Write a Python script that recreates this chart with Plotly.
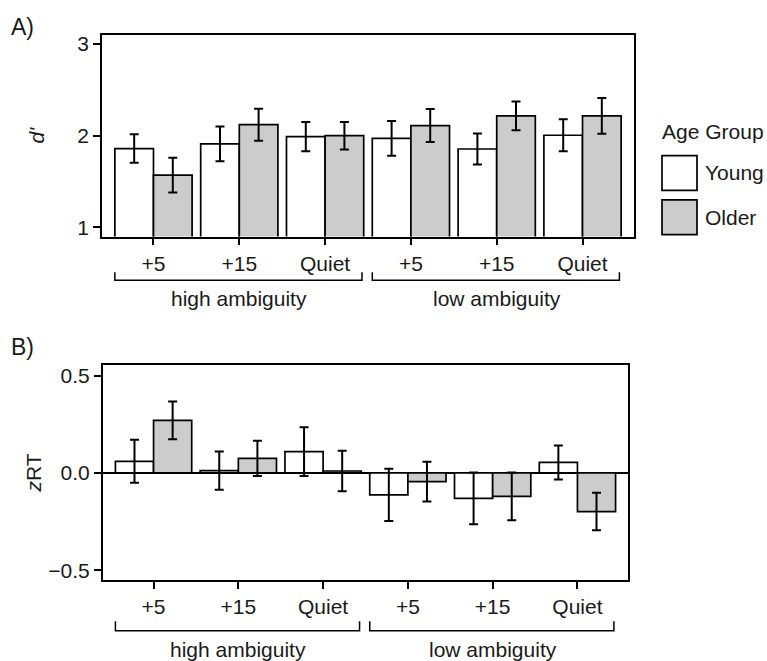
import plotly.graph_objects as go

conditions = ["+5", "+15", "Quiet", "+5", "+15", "Quiet"]
groups = ["high ambiguity", "low ambiguity"]
xpos = [0, 1, 2, 3, 4, 5]

# Panel A: d'
dprime_young = [1.86, 1.91, 1.99, 1.97, 1.855, 2.005]
dprime_young_err = [0.155, 0.19, 0.16, 0.19, 0.17, 0.175]
dprime_older = [1.57, 2.12, 2.00, 2.11, 2.215, 2.215]
dprime_older_err = [0.19, 0.175, 0.15, 0.18, 0.157, 0.195]

# Panel B: zRT
zrt_young = [0.06, 0.012, 0.11, -0.112, -0.13, 0.054]
zrt_young_err = [0.11, 0.098, 0.125, 0.134, 0.133, 0.087]
zrt_older = [0.27, 0.075, 0.01, -0.044, -0.12, -0.198]
zrt_older_err = [0.097, 0.09, 0.104, 0.102, 0.122, 0.096]

series_names = ["Young", "Older"]
series_colors = ["#ffffff", "#cccccc"]

FONT = "Liberation Sans, Arial, Helvetica, sans-serif"
FS = 21
TXT = "#1a1a1a"
W, H = 767, 661

def px(v):
    return v / W

def py(v):
    return 1 - v / H

fig = go.Figure()

def add_bars(vals, errs, name, color, xa, ya):
    fig.add_trace(go.Bar(
        x=xpos, y=vals, name=name, xaxis=xa, yaxis=ya,
        marker=dict(color=color, line=dict(color="black", width=1.7)),
        error_y=dict(type="data", array=errs, color="black", thickness=2, width=4.5),
        showlegend=False,
    ))

add_bars(dprime_young, dprime_young_err, series_names[0], series_colors[0], "x", "y")
add_bars(dprime_older, dprime_older_err, series_names[1], series_colors[1], "x", "y")
add_bars(zrt_young, zrt_young_err, series_names[0], series_colors[0], "x2", "y2")
add_bars(zrt_older, zrt_older_err, series_names[1], series_colors[1], "x2", "y2")

axis_common = dict(showline=True, linecolor="black", linewidth=1.5, mirror=True,
                   showgrid=False, ticks="outside", tickcolor="black", tickwidth=1.5,
                   tickfont=dict(family=FONT, size=FS, color=TXT))

fig.update_layout(
    width=W, height=H,
    margin=dict(l=0, r=0, t=0, b=0),
    paper_bgcolor="white", plot_bgcolor="white",
    barmode="group", bargap=0.1, bargroupgap=0,
    font=dict(family=FONT, size=FS, color=TXT),
    xaxis=dict(domain=[px(102), px(634)], anchor="y", range=[-0.6, 5.6],
               tickvals=xpos, ticktext=conditions, ticklen=7, zeroline=False,
               **axis_common),
    yaxis=dict(domain=[py(236), py(33)], anchor="x", range=[0.9, 3.1],
               tickvals=[1, 2, 3], ticklen=7, zeroline=False,
               title=dict(text="<i>d'</i>", font=dict(family=FONT, size=FS), standoff=27),
               **axis_common),
    xaxis2=dict(domain=[px(102.7), px(628.3)], anchor="y2", range=[-0.6, 5.6],
                tickvals=xpos, ticktext=conditions, ticklen=7, zeroline=False,
                **axis_common),
    yaxis2=dict(domain=[py(581.7), py(365)], anchor="x2", range=[-0.55, 0.555],
                tickvals=[-0.5, 0, 0.5], tickformat=".1f", ticklen=7,
                zeroline=True, zerolinecolor="black", zerolinewidth=1.5,
                title=dict(text="<i>z</i>RT", font=dict(family=FONT, size=FS), standoff=1),
                **axis_common),
)

shapes = []
annotations = []
# Brackets and group labels
for xa, yline, yend, ylab in [("x", 280, 272, 298), ("x2", 632.7, 623, 651)]:
    for gi, g in enumerate(groups):
        x0 = gi * 3 - 0.45
        x1 = gi * 3 + 2 + 0.43
        shapes.append(dict(type="path", xref=xa, yref="paper",
                           path=f"M {x0} {py(yend)} L {x0} {py(yline)} L {x1} {py(yline)} L {x1} {py(yend)}",
                           line=dict(color="black", width=1.5)))
        annotations.append(dict(text=g, xref=xa, yref="paper", x=gi * 3 + 1, y=py(ylab),
                                showarrow=False, xanchor="center", yanchor="middle",
                                font=dict(family=FONT, size=FS, color=TXT)))

# Panel labels
annotations.append(dict(text="A)", xref="paper", yref="paper", x=px(9), y=py(25),
                        showarrow=False, xanchor="left", yanchor="middle",
                        font=dict(family=FONT, size=23, color=TXT)))
annotations.append(dict(text="B)", xref="paper", yref="paper", x=px(9), y=py(347),
                        showarrow=False, xanchor="left", yanchor="middle",
                        font=dict(family=FONT, size=23, color=TXT)))

# Custom legend
annotations.append(dict(text="Age Group", xref="paper", yref="paper", x=px(660), y=py(130),
                        showarrow=False, xanchor="left", yanchor="middle",
                        font=dict(family=FONT, size=FS, color=TXT)))
for i, (nm, col) in enumerate(zip(series_names, series_colors)):
    top = 154.5 + i * 44.5
    shapes.append(dict(type="rect", xref="paper", yref="paper",
                       x0=px(662), x1=px(697), y0=py(top + 35), y1=py(top),
                       fillcolor=col, line=dict(color="black", width=1.7)))
    annotations.append(dict(text=nm, xref="paper", yref="paper", x=px(703), y=py(top + 17.5),
                            showarrow=False, xanchor="left", yanchor="middle",
                            font=dict(family=FONT, size=FS, color=TXT)))

fig.update_layout(shapes=shapes, annotations=annotations)
fig.write_html(
    "out.html",
    config={"displayModeBar": False},
    post_script="document.body.style.margin='0';document.body.style.overflow='hidden';",
)
